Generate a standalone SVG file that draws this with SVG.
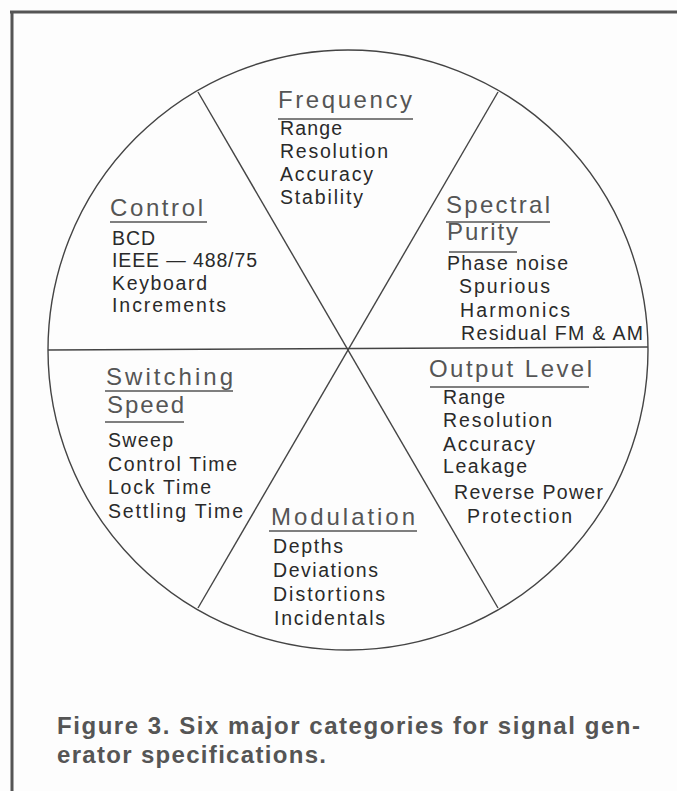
<svg xmlns="http://www.w3.org/2000/svg" width="677" height="791" viewBox="0 0 677 791">
<style>
.h{font-family:"Liberation Sans",Arial,sans-serif;font-size:24px;fill:#555}
.i{font-family:"Liberation Sans",Arial,sans-serif;font-size:19.5px;fill:#2a2a2a}
.u{stroke:#555;stroke-width:1.4}
.ln{stroke:#444;stroke-width:1.4;fill:none}
.cap{font-family:"Liberation Sans",Arial,sans-serif;font-size:24px;font-weight:bold;fill:#555}
</style>
<rect width="677" height="791" fill="#fdfdfd"/>
<g id="frame" stroke="#555" stroke-width="3" fill="none">
<line x1="10" y1="12" x2="677" y2="12"/>
<line x1="12" y1="11" x2="12" y2="791"/>
</g>
<g id="connectors">
<circle class="ln" cx="348" cy="350" r="300"/>
<line class="ln" x1="48" y1="350" x2="648" y2="347"/>
<line class="ln" x1="198" y1="92" x2="498" y2="608"/>
<line class="ln" x1="498" y1="92" x2="198" y2="608"/>
</g>
<g id="frequency">
<text class="h" x="278" y="108" textLength="134" lengthAdjust="spacing">Frequency</text>
<line class="u" x1="278" y1="119" x2="413" y2="119"/>
<text class="i" x="280" y="135" textLength="62" lengthAdjust="spacing">Range</text>
<text class="i" x="280" y="158" textLength="108" lengthAdjust="spacing">Resolution</text>
<text class="i" x="280" y="181" textLength="93" lengthAdjust="spacing">Accuracy</text>
<text class="i" x="280" y="204" textLength="83" lengthAdjust="spacing">Stability</text>
</g>
<g id="control">
<text class="h" x="110" y="216" textLength="93" lengthAdjust="spacing">Control</text>
<line class="u" x1="110" y1="222" x2="207" y2="222"/>
<text class="i" x="112" y="245" textLength="43" lengthAdjust="spacing">BCD</text>
<text class="i" x="112" y="267" textLength="145" lengthAdjust="spacing">IEEE — 488/75</text>
<text class="i" x="112" y="290" textLength="95" lengthAdjust="spacing">Keyboard</text>
<text class="i" x="112" y="312" textLength="114" lengthAdjust="spacing">Increments</text>
</g>
<g id="spectral-purity">
<text class="h" x="446" y="213" textLength="104" lengthAdjust="spacing">Spectral</text>
<line class="u" x1="446" y1="222" x2="550" y2="222"/>
<text class="h" x="447" y="240" textLength="71" lengthAdjust="spacing">Purity</text>
<line class="u" x1="449" y1="252" x2="517" y2="252"/>
<text class="i" x="447" y="270" textLength="121" lengthAdjust="spacing">Phase noise</text>
<text class="i" x="459" y="293" textLength="91" lengthAdjust="spacing">Spurious</text>
<text class="i" x="460" y="317" textLength="110" lengthAdjust="spacing">Harmonics</text>
<text class="i" x="461" y="340" textLength="182" lengthAdjust="spacing">Residual FM &amp; AM</text>
</g>
<g id="output-level">
<text class="h" x="429" y="377" textLength="163" lengthAdjust="spacing">Output Level</text>
<line class="u" x1="430" y1="387" x2="589" y2="387"/>
<text class="i" x="443" y="404" textLength="62" lengthAdjust="spacing">Range</text>
<text class="i" x="443" y="427" textLength="109" lengthAdjust="spacing">Resolution</text>
<text class="i" x="443" y="451" textLength="92" lengthAdjust="spacing">Accuracy</text>
<text class="i" x="443" y="473" textLength="84" lengthAdjust="spacing">Leakage</text>
<text class="i" x="454" y="499" textLength="149" lengthAdjust="spacing">Reverse Power</text>
<text class="i" x="467" y="523" textLength="105" lengthAdjust="spacing">Protection</text>
</g>
<g id="switching-speed">
<text class="h" x="106" y="385" textLength="127" lengthAdjust="spacing">Switching</text>
<line class="u" x1="105" y1="391" x2="233" y2="391"/>
<text class="h" x="107" y="413" textLength="77" lengthAdjust="spacing">Speed</text>
<line class="u" x1="105" y1="422" x2="184" y2="422"/>
<text class="i" x="108" y="447" textLength="65" lengthAdjust="spacing">Sweep</text>
<text class="i" x="108" y="471" textLength="129" lengthAdjust="spacing">Control Time</text>
<text class="i" x="108" y="494" textLength="103" lengthAdjust="spacing">Lock Time</text>
<text class="i" x="108" y="518" textLength="135" lengthAdjust="spacing">Settling Time</text>
</g>
<g id="modulation">
<text class="h" x="271" y="525" textLength="144" lengthAdjust="spacing">Modulation</text>
<line class="u" x1="269" y1="531" x2="417" y2="531"/>
<text class="i" x="273" y="553" textLength="70" lengthAdjust="spacing">Depths</text>
<text class="i" x="273" y="577" textLength="105" lengthAdjust="spacing">Deviations</text>
<text class="i" x="273" y="601" textLength="112" lengthAdjust="spacing">Distortions</text>
<text class="i" x="274" y="625" textLength="111" lengthAdjust="spacing">Incidentals</text>
</g>
<g id="caption">
<text class="cap" x="57" y="734" textLength="583" lengthAdjust="spacing">Figure 3. Six major categories for signal gen-</text>
<text class="cap" x="57" y="763" textLength="269" lengthAdjust="spacing">erator specifications.</text>
</g>
</svg>
